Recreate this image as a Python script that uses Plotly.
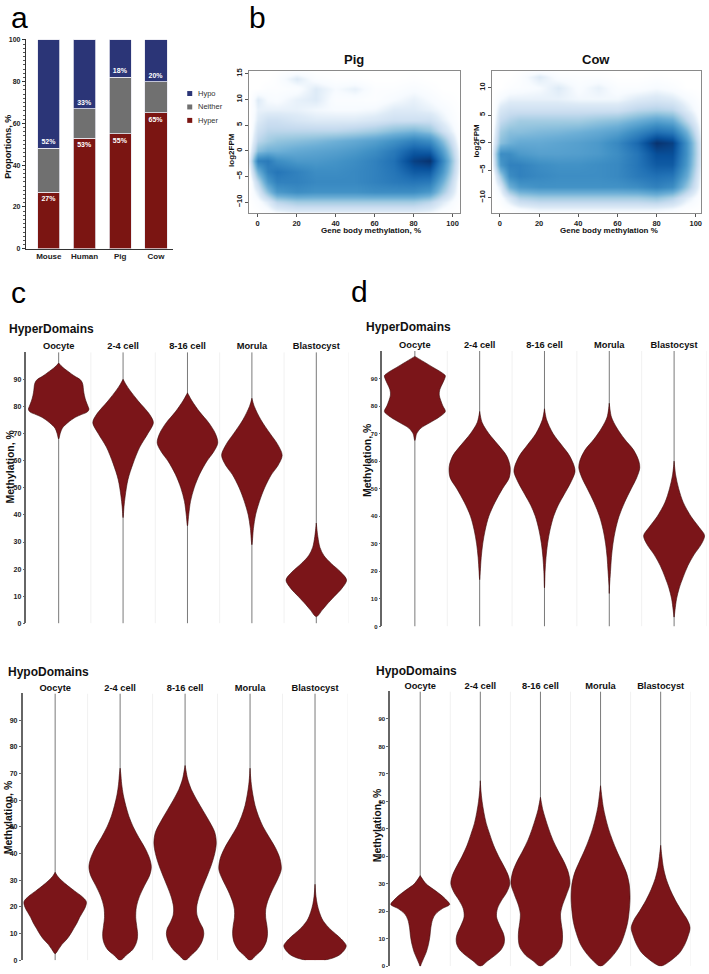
import plotly.graph_objects as go

W, H = 709, 974
FONT = "Liberation Sans Narrow, Arial Narrow, Liberation Sans, Arial, sans-serif"
FONT_W = "Liberation Sans, Arial, sans-serif"

# ---------------- Panel a data ----------------
species = ["Mouse", "Human", "Pig", "Cow"]
hyper_pct = [27, 53, 55, 65]
neither_pct = [21, 14, 27, 15]
hypo_pct = [52, 33, 18, 20]
hyper_lbl = ["27%", "53%", "55%", "65%"]
hypo_lbl = ["52%", "33%", "18%", "20%"]

# ---------------- Panel b data (density) ----------------
dens_x = [-4, 0, 5, 10, 20, 30, 40, 50, 60, 70, 80, 88, 95, 104]
pig_y = [-12, -10, -8, -6, -4, -2, 0, 2, 4, 6, 8, 10, 12, 14, 16]
pig_z = [
    [0, 0, 0.02, 0.05, 0.08, 0.08, 0.08, 0.08, 0.08, 0.08, 0.08, 0.06, 0.02, 0],
    [0, 0.03, 0.1, 0.2, 0.25, 0.25, 0.25, 0.25, 0.25, 0.25, 0.25, 0.2, 0.1, 0],
    [0, 0.1, 0.3, 0.45, 0.5, 0.48, 0.48, 0.48, 0.5, 0.5, 0.5, 0.45, 0.25, 0],
    [0, 0.2, 0.45, 0.55, 0.55, 0.52, 0.52, 0.52, 0.55, 0.58, 0.6, 0.58, 0.35, 0],
    [0.05, 0.35, 0.55, 0.6, 0.55, 0.5, 0.5, 0.52, 0.55, 0.6, 0.7, 0.7, 0.45, 0.02],
    [0.1, 0.55, 0.58, 0.5, 0.45, 0.45, 0.47, 0.5, 0.55, 0.62, 0.8, 0.85, 0.52, 0.03],
    [0.05, 0.3, 0.35, 0.35, 0.38, 0.4, 0.42, 0.45, 0.5, 0.58, 0.7, 0.68, 0.42, 0.02],
    [0.02, 0.2, 0.25, 0.28, 0.3, 0.32, 0.35, 0.38, 0.42, 0.48, 0.55, 0.5, 0.3, 0],
    [0, 0.15, 0.2, 0.2, 0.2, 0.2, 0.2, 0.22, 0.25, 0.3, 0.33, 0.28, 0.15, 0],
    [0, 0.1, 0.15, 0.15, 0.12, 0.1, 0.1, 0.1, 0.12, 0.15, 0.15, 0.15, 0.08, 0],
    [0, 0.08, 0.08, 0.08, 0.08, 0.06, 0.05, 0.05, 0.06, 0.1, 0.1, 0.08, 0.05, 0],
    [0, 0.1, 0.05, 0.04, 0.08, 0.1, 0.03, 0.03, 0.02, 0.05, 0.08, 0.05, 0.02, 0],
    [0, 0, 0.02, 0.02, 0.03, 0.1, 0.05, 0.08, 0.02, 0.02, 0.04, 0.02, 0, 0],
    [0, 0, 0, 0.02, 0.1, 0.03, 0.01, 0.01, 0, 0, 0.01, 0, 0, 0],
    [0, 0, 0, 0, 0, 0, 0, 0, 0, 0, 0, 0, 0, 0],
]
cow_y = [-13, -12, -10, -8, -6, -4, -2, 0, 2, 4, 6, 8, 10, 12, 13.5]
cow_z = [
    [0, 0, 0, 0.02, 0.03, 0.03, 0.03, 0.03, 0.03, 0.03, 0.03, 0.02, 0, 0],
    [0, 0, 0.02, 0.05, 0.08, 0.08, 0.08, 0.08, 0.08, 0.08, 0.08, 0.06, 0.02, 0],
    [0, 0.03, 0.12, 0.22, 0.25, 0.25, 0.25, 0.25, 0.25, 0.25, 0.28, 0.22, 0.1, 0],
    [0, 0.1, 0.35, 0.45, 0.48, 0.48, 0.48, 0.48, 0.48, 0.5, 0.55, 0.5, 0.28, 0],
    [0, 0.25, 0.5, 0.55, 0.52, 0.5, 0.5, 0.5, 0.52, 0.58, 0.62, 0.6, 0.38, 0],
    [0.05, 0.45, 0.55, 0.55, 0.5, 0.48, 0.48, 0.5, 0.52, 0.6, 0.7, 0.7, 0.45, 0.02],
    [0.08, 0.5, 0.5, 0.45, 0.42, 0.42, 0.43, 0.45, 0.5, 0.6, 0.75, 0.75, 0.48, 0.03],
    [0.05, 0.3, 0.35, 0.38, 0.38, 0.4, 0.42, 0.45, 0.52, 0.65, 0.85, 0.8, 0.48, 0.02],
    [0.02, 0.25, 0.3, 0.3, 0.32, 0.33, 0.35, 0.38, 0.42, 0.52, 0.62, 0.58, 0.35, 0],
    [0, 0.18, 0.22, 0.25, 0.25, 0.25, 0.25, 0.28, 0.3, 0.36, 0.42, 0.38, 0.2, 0],
    [0, 0.12, 0.15, 0.15, 0.15, 0.15, 0.15, 0.15, 0.15, 0.2, 0.22, 0.2, 0.1, 0],
    [0, 0.05, 0.08, 0.08, 0.08, 0.08, 0.06, 0.06, 0.06, 0.1, 0.12, 0.1, 0.05, 0],
    [0, 0, 0.02, 0.03, 0.05, 0.1, 0.04, 0.08, 0.03, 0.03, 0.05, 0.03, 0, 0],
    [0, 0, 0, 0.02, 0.1, 0.03, 0.02, 0.02, 0, 0, 0.01, 0, 0, 0],
    [0, 0, 0, 0, 0, 0, 0, 0, 0, 0, 0, 0, 0, 0],
]

# ---------------- Panels c/d violin profiles: (methylation %, relative half-width) ----------------
stages = ["Oocyte", "2-4 cell", "8-16 cell", "Morula", "Blastocyst"]

c_hyper_oocyte = [(68, 0), (70, 0.05), (72, 0.12), (74, 0.3), (76, 0.55), (77, 0.75), (78, 0.95), (79, 1.0),
                  (80, 0.97), (82, 0.9), (84, 0.85), (86, 0.82), (88, 0.8), (89, 0.77), (90, 0.7), (91, 0.55),
                  (92, 0.42), (93, 0.3), (94, 0.18), (95, 0.08), (96, 0)]
c_hyper_2_4 = [(39, 0), (43, 0.03), (47, 0.07), (53, 0.16), (59, 0.33), (65, 0.55), (70, 0.82), (74, 1.0),
               (77, 0.88), (82, 0.5), (86, 0.22), (88, 0.1), (90, 0)]
c_hyper_8_16 = [(36, 0), (40, 0.04), (45, 0.1), (50, 0.22), (55, 0.4), (60, 0.65), (63, 0.85), (66.5, 1.0),
                (70, 0.92), (74, 0.7), (78, 0.4), (82, 0.15), (85, 0)]
c_hyper_morula = [(29, 0), (35, 0.05), (40, 0.12), (45, 0.25), (50, 0.42), (55, 0.65), (58, 0.85), (62, 1.0),
                  (66, 0.85), (70, 0.6), (75, 0.3), (80, 0.08), (83, 0)]
c_hyper_blast = [(2.5, 0), (5, 0.2), (7, 0.35), (10, 0.6), (13, 0.85), (16, 1.0), (19, 0.8), (22, 0.5),
                 (25, 0.25), (28, 0.12), (32, 0.05), (37, 0)]

d_hyper_oocyte = [(67.5, 0), (70, 0.06), (72, 0.2), (74, 0.5), (76, 0.8), (78, 1.0), (80, 0.92), (82, 0.85),
                  (84, 0.8), (86, 0.82), (88, 0.9), (90, 0.98), (91, 1.0), (92, 0.9), (94, 0.6), (96, 0.3), (98, 0)]
d_hyper_2_4 = [(17, 0), (20, 0.02), (25, 0.05), (30, 0.1), (35, 0.18), (40, 0.3), (45, 0.5), (50, 0.75),
               (54, 0.97), (58, 1.0), (62, 0.88), (66, 0.6), (70, 0.3), (74, 0.08), (78, 0)]
d_hyper_8_16 = [(14, 0), (20, 0.02), (25, 0.05), (30, 0.1), (35, 0.18), (40, 0.3), (44, 0.45), (48, 0.65),
                (52, 0.85), (56, 1.0), (58, 0.98), (62, 0.82), (66, 0.55), (70, 0.28), (75, 0.07), (79, 0)]
d_hyper_morula = [(12, 0), (15, 0.01), (20, 0.04), (25, 0.07), (30, 0.12), (35, 0.2), (40, 0.32), (45, 0.5),
                  (50, 0.72), (54, 0.9), (57.5, 1.0), (60, 0.97), (64, 0.8), (68, 0.5), (72, 0.25), (76, 0.07), (81, 0)]
d_hyper_blast = [(3.4, 0), (6, 0.03), (10, 0.08), (14, 0.17), (18, 0.3), (22, 0.45), (26, 0.65), (30, 0.9),
                 (33, 1.0), (36, 0.82), (40, 0.55), (45, 0.3), (50, 0.15), (55, 0.05), (60, 0)]

c_hypo_oocyte = [(2.5, 0), (4, 0.1), (6, 0.22), (8, 0.38), (10, 0.5), (12, 0.6), (14, 0.7), (16, 0.78),
                 (18, 0.88), (20, 0.97), (22, 1.0), (24, 0.85), (26, 0.62), (28, 0.4), (30, 0.2), (31.5, 0.08), (33, 0)]
c_hypo_2_4 = [(0, 0), (2, 0.2), (4, 0.4), (6, 0.5), (8, 0.55), (10, 0.56), (13, 0.53), (16, 0.5), (20, 0.52),
              (24, 0.62), (28, 0.78), (32, 0.95), (35, 1.0), (38, 0.95), (42, 0.8), (46, 0.6), (50, 0.42),
              (54, 0.28), (58, 0.18), (62, 0.1), (66, 0.05), (70, 0.02), (72, 0)]
c_hypo_8_16 = [(0, 0), (2, 0.2), (4, 0.38), (6, 0.5), (8, 0.57), (10, 0.6), (12, 0.57), (14, 0.48), (17, 0.38),
               (20, 0.37), (24, 0.45), (28, 0.58), (32, 0.72), (36, 0.85), (40, 0.95), (44, 1.0), (48, 0.95),
               (52, 0.78), (56, 0.58), (60, 0.38), (64, 0.2), (68, 0.08), (71, 0.03), (73, 0)]
c_hypo_morula = [(0, 0), (2, 0.2), (4, 0.38), (7, 0.52), (10, 0.56), (13, 0.54), (16, 0.5), (19, 0.5), (22, 0.56),
                 (26, 0.7), (30, 0.87), (34, 1.0), (38, 0.96), (42, 0.82), (46, 0.62), (50, 0.42), (54, 0.27),
                 (58, 0.16), (62, 0.09), (66, 0.04), (70, 0.01), (72, 0)]
c_hypo_blast = [(0, 0.3), (1, 0.6), (2, 0.78), (4, 0.95), (5.5, 1.0), (7, 0.92), (9, 0.75), (11, 0.55),
                (13, 0.38), (15, 0.25), (18, 0.14), (21, 0.07), (24, 0.03), (28.5, 0)]

d_hypo_oocyte = [(0, 0), (1, 0.04), (3, 0.12), (5, 0.2), (8, 0.28), (11, 0.33), (14, 0.36), (17, 0.42),
                 (19, 0.52), (21, 0.75), (22.5, 1.0), (24, 0.9), (26, 0.7), (28, 0.45), (30, 0.2), (33, 0)]
d_hypo_2_4 = [(0, 0), (2, 0.25), (4, 0.5), (6, 0.7), (8, 0.8), (10, 0.82), (12, 0.78), (15, 0.65), (18, 0.55),
              (21, 0.58), (24, 0.72), (27, 0.9), (30, 1.0), (33, 0.95), (36, 0.82), (40, 0.62), (44, 0.45),
              (48, 0.32), (52, 0.2), (56, 0.12), (60, 0.06), (64, 0.02), (67.5, 0)]
d_hypo_8_16 = [(0, 0), (2, 0.25), (4, 0.5), (7, 0.7), (10, 0.75), (13, 0.74), (16, 0.7), (19, 0.68), (22, 0.74),
               (26, 0.88), (30, 1.0), (34, 0.95), (38, 0.8), (42, 0.6), (46, 0.42), (50, 0.28), (54, 0.16),
               (57, 0.08), (61.5, 0)]
d_hypo_morula = [(0, 0), (2, 0.25), (5, 0.5), (8, 0.68), (12, 0.82), (16, 0.92), (20, 0.97), (25, 1.0),
                 (30, 0.97), (34, 0.88), (38, 0.72), (42, 0.55), (46, 0.4), (50, 0.27), (54, 0.17), (58, 0.09),
                 (62, 0.04), (65.7, 0)]
d_hypo_blast = [(0, 0.02), (1, 0.2), (3, 0.45), (5, 0.65), (8, 0.82), (11, 0.93), (14, 1.0), (17, 0.9),
                (20, 0.72), (24, 0.5), (28, 0.32), (32, 0.18), (36, 0.09), (40, 0.04), (44, 0)]

# ---------------- style ----------------
HYPO_C, NEITHER_C, HYPER_C = "#2b3577", "#707070", "#7b1512"
VIOLIN_FILL, VIOLIN_LINE = "#7b1519", "#3c0808"

fig = go.Figure()


def px(xp):
    return xp / W


def py(yp):
    return 1 - yp / H


# ---- panel a bars
for name, vals, col, txt, anchor in [
    ("Hyper", hyper_pct, HYPER_C, hyper_lbl, "end"),
    ("Neither", neither_pct, NEITHER_C, None, "end"),
    ("Hypo", hypo_pct, HYPO_C, hypo_lbl, "start"),
]:
    fig.add_trace(go.Bar(
        x=species, y=vals, name=name, marker=dict(color=col, line=dict(color="#e8e8f0", width=0.8)),
        width=0.62, text=txt, textposition="inside" if txt else "none", insidetextanchor=anchor,
        textfont=dict(color="white", size=7, family=FONT_W, weight="bold"), constraintext="none",
        showlegend=False, xaxis="x", yaxis="y", hoverinfo="skip"))

# ---- panel b density maps
cscale = [[0, "#FFFFFF"], [0.05, "#F7FBFF"], [0.1, "#DEEBF7"], [0.18, "#C6DBEF"], [0.26, "#9ECAE1"],
          [0.36, "#6BAED6"], [0.48, "#4292C6"], [0.62, "#2171B5"], [0.74, "#08519C"], [0.86, "#08306B"],
          [1, "#302a4a"]]
fig.add_trace(go.Heatmap(x=dens_x, y=pig_y, z=pig_z, zsmooth="best", colorscale=cscale, zmin=0, zmax=1,
                         showscale=False, xaxis="x2", yaxis="y2", hoverinfo="skip"))
fig.add_trace(go.Heatmap(x=dens_x, y=cow_y, z=cow_z, zsmooth="best", colorscale=cscale, zmin=0, zmax=1,
                         showscale=False, xaxis="x3", yaxis="y3", hoverinfo="skip"))

# ---- panels c/d violins
violin_panels = [
    ("x4", "y4", [c_hyper_oocyte, c_hyper_2_4, c_hyper_8_16, c_hyper_morula, c_hyper_blast], 0.47),
    ("x5", "y5", [d_hyper_oocyte, d_hyper_2_4, d_hyper_8_16, d_hyper_morula, d_hyper_blast], 0.47),
    ("x6", "y6", [c_hypo_oocyte, c_hypo_2_4, c_hypo_8_16, c_hypo_morula, c_hypo_blast], 0.48),
    ("x7", "y7", [d_hypo_oocyte, d_hypo_2_4, d_hypo_8_16, d_hypo_morula, d_hypo_blast], 0.49),
]
for xa, ya, profs, hw in violin_panels:
    for i, prof in enumerate(profs):
        fig.add_trace(go.Scatter(x=[i, i], y=[0, 100], mode="lines", line=dict(color="#7a7a7a", width=1),
                                 showlegend=False, xaxis=xa, yaxis=ya, hoverinfo="skip"))
    for i, prof in enumerate(profs):
        ys = [p[0] for p in prof]
        ws = [p[1] for p in prof]
        xs = [i + w * hw for w in ws] + [i - w * hw for w in reversed(ws)]
        yy = ys + list(reversed(ys))
        fig.add_trace(go.Scatter(x=xs, y=yy, mode="lines", fill="toself", fillcolor=VIOLIN_FILL,
                                 line=dict(color=VIOLIN_LINE, width=0.6, shape="spline", smoothing=0.9),
                                 showlegend=False, xaxis=xa, yaxis=ya, hoverinfo="skip"))

# ---------------- layout ----------------
tickfont_b = dict(family=FONT, size=7.5, color="#222", weight="bold")
layout = dict(
    width=W, height=H, margin=dict(l=0, r=0, t=0, b=0), paper_bgcolor="white", plot_bgcolor="white",
    barmode="stack", showlegend=False,
    xaxis=dict(domain=[px(26), px(173)], range=[-0.64, 3.47], anchor="y", showline=True, linecolor="#333",
               linewidth=1.2, ticks="", tickfont=dict(family=FONT_W, size=8, color="#222", weight="bold"),
               showgrid=False, zeroline=False, fixedrange=True),
    yaxis=dict(domain=[py(248), py(37)], range=[0, 100.5], anchor="x", showline=True, linecolor="#333",
               linewidth=1.2, ticks="outside", ticklen=3, tickcolor="#333", tickvals=[0, 20, 40, 60, 80, 100],
               minor=dict(dtick=2, ticks="outside", ticklen=1.5, tickcolor="#555"),
               tickfont=dict(family=FONT_W, size=7, color="#222", weight="bold"), showgrid=False, zeroline=False),
)
for k, (dx, rng_x, dy, rng_y, yt) in {
    "2": ((249, 461), (-4.6, 104), (212, 69), (-12.1, 15.6), [-10, -5, 0, 5, 10, 15]),
    "3": ((493, 702), (-3.9, 102.7), (212, 69), (-12.8, 13.1), [-10, -5, 0, 5, 10]),
}.items():
    layout["xaxis" + k] = dict(domain=[px(dx[0]), px(dx[1])], range=list(rng_x), anchor="y" + k,
                               showline=True, mirror=True, linecolor="#8a8a8a", linewidth=1, ticks="outside",
                               ticklen=3, tickcolor="#555", tickvals=[0, 20, 40, 60, 80, 100], tickfont=tickfont_b,
                               showgrid=False, zeroline=False)
    layout["yaxis" + k] = dict(domain=[py(dy[0]), py(dy[1])], range=list(rng_y), anchor="x" + k,
                               showline=True, mirror=True, linecolor="#8a8a8a", linewidth=1, ticks="outside",
                               ticklen=3, tickcolor="#555", tickvals=yt, tickangle=-90, tickfont=tickfont_b,
                               showgrid=False, zeroline=False)

vdom = {
    "4": ((26.5, 349), (624.6, 352), 7),
    "5": ((383, 707.5), (627.7, 350.7), 6),
    "6": ((22.7, 348), (963.3, 695), 7),
    "7": ((390.7, 691.7), (969.3, 693), 6),
}
for k, (dx, dy, tfs) in vdom.items():
    layout["xaxis" + k] = dict(domain=[px(dx[0]), px(dx[1])], range=[-0.5, 4.5], anchor="y" + k, side="top",
                               tickvals=[0, 1, 2, 3, 4], ticktext=stages, ticks="", showline=False,
                               showgrid=False, zeroline=False,
                               tickfont=dict(family=FONT, size=9.3, color="#111", weight="bold"))
    layout["yaxis" + k] = dict(domain=[py(dy[0]), py(dy[1])], range=[0, 100], anchor="x" + k,
                               tickvals=list(range(0, 100, 10)), showline=True, linecolor="#666", linewidth=1.5,
                               ticks="outside", ticklen=2, tickcolor="#666", showgrid=False, zeroline=False,
                               tickfont=dict(family=FONT, size=tfs, color="#222", weight="bold"))
fig.update_layout(**layout)

# facet separators (faint)
shapes = []
for k in vdom:
    for s in [0.5, 1.5, 2.5, 3.5, 4.5]:
        shapes.append(dict(type="line", xref="x" + k, yref="y" + k, x0=s, x1=s, y0=0, y1=100,
                           line=dict(color="#f1f1f1", width=1), layer="below"))
# legend squares (panel a)
for yy, col in [(92, HYPO_C), (105.5, NEITHER_C), (119, HYPER_C)]:
    shapes.append(dict(type="rect", xref="paper", yref="paper", x0=px(187.5), x1=px(192.5), y0=py(yy + 2.5),
                       y1=py(yy - 2.5), fillcolor=col, line=dict(width=0)))
fig.update_layout(shapes=shapes)

ann = []


def text(x, y, s, size, weight="normal", family=FONT_W, angle=0, xanchor="center", color="#111"):
    ann.append(dict(x=px(x), y=py(y), xref="paper", yref="paper", text=s, showarrow=False,
                    textangle=angle, xanchor=xanchor, yanchor="middle",
                    font=dict(family=family, size=size, color=color, weight=weight)))


# panel letters
text(9, 16, "a", 30, xanchor="left", color="#000")
text(247, 16, "b", 30, xanchor="left", color="#000")
text(9, 292, "c", 30, xanchor="left", color="#000")
text(349, 291, "d", 30, xanchor="left", color="#000")
# legend labels
for yy, s in [(92, "Hypo"), (105.5, "Neither"), (119, "Hyper")]:
    text(196, yy, s, 7.5, xanchor="left", color="#333")
# axis titles panel a
text(8.5, 145, "Proportions, %", 9, weight="bold", angle=-90)
# panel b titles
text(355, 58, "Pig", 13, weight="bold")
text(597, 58, "Cow", 13, weight="bold")
text(372, 230, "Gene body methylation, %", 8, weight="bold", family=FONT)
text(610, 230, "Gene body methylation %", 8, weight="bold", family=FONT)
text(232, 149, "log2FPM", 8, weight="bold", family=FONT, angle=-90)
text(477, 139, "log2FPM", 8, weight="bold", family=FONT, angle=-90)
# violin panel titles
text(7, 329, "HyperDomains", 12, weight="bold", family=FONT, xanchor="left")
text(365, 327, "HyperDomains", 12, weight="bold", family=FONT, xanchor="left")
text(6, 673, "HypoDomains", 12, weight="bold", family=FONT, xanchor="left")
text(375, 672, "HypoDomains", 12, weight="bold", family=FONT, xanchor="left")
# violin y titles
text(10, 467, "Methylation, %", 10.5, weight="bold", angle=-90)
text(367, 460, "Methylation, %", 10.5, weight="bold", angle=-90)
text(7.5, 819, "Methylation, %", 10.5, weight="bold", angle=-90)
text(377, 827, "Methylation, %", 10.5, weight="bold", angle=-90)
fig.update_layout(annotations=ann)

fig.write_html("out.html", config={"displayModeBar": False},
               post_script="document.body.style.margin='0';document.body.style.padding='0';")
